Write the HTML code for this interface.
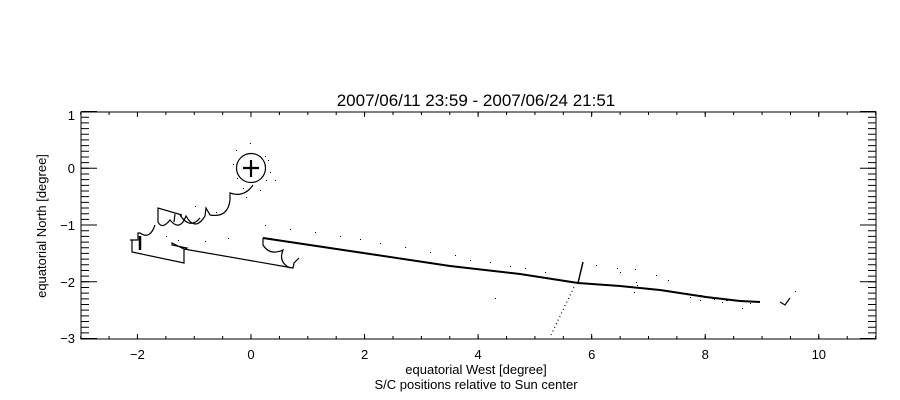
<!DOCTYPE html>
<html><head><style>
html,body{margin:0;padding:0;background:#fff;}
svg{display:block;font-family:"Liberation Sans",sans-serif;}
</style></head><body>
<svg width="900" height="400" viewBox="0 0 900 400" xmlns="http://www.w3.org/2000/svg">
<rect width="900" height="400" fill="#fff"/>
<text x="476" y="106" font-size="17" text-anchor="middle" fill="#000">2007/06/11 23:59 - 2007/06/24 21:51</text>
<rect x="81" y="112" width="795" height="227" fill="none" stroke="#000" stroke-width="1"/>
<g stroke="#000" fill="none">
<line x1="80.2" y1="337.5" x2="876" y2="337.5" stroke-width="3" stroke-dasharray="1 27.39"/>
<line x1="80.2" y1="113.5" x2="876" y2="113.5" stroke-width="3" stroke-dasharray="1 27.39"/>
<line x1="136.9" y1="336.5" x2="876" y2="336.5" stroke-width="5" stroke-dasharray="1 112.56"/>
<line x1="136.9" y1="114.5" x2="876" y2="114.5" stroke-width="5" stroke-dasharray="1 112.56"/>
<line x1="85" y1="111.05" x2="85" y2="339.5" stroke-width="8" stroke-dasharray="1 4.675"/>
<line x1="872" y1="111.05" x2="872" y2="339.5" stroke-width="8" stroke-dasharray="1 4.675"/>
<line x1="89" y1="111.05" x2="89" y2="339.5" stroke-width="16" stroke-dasharray="1 55.75"/>
<line x1="868" y1="111.05" x2="868" y2="339.5" stroke-width="16" stroke-dasharray="1 55.75"/>
</g>
<g font-size="13" fill="#000" text-anchor="middle">
<text x="137.4" y="359">−2</text>
<text x="251" y="359">0</text>
<text x="364.6" y="359">2</text>
<text x="478.1" y="359">4</text>
<text x="591.7" y="359">6</text>
<text x="705.2" y="359">8</text>
<text x="818.8" y="359">10</text>
</g>
<g font-size="13" fill="#000" text-anchor="end">
<text x="75" y="120">1</text>
<text x="75" y="173">0</text>
<text x="75" y="230">−1</text>
<text x="75" y="287">−2</text>
<text x="75" y="343">−3</text>
</g>
<text x="476" y="374" font-size="13" text-anchor="middle">equatorial West [degree]</text>
<text x="476" y="389" font-size="13" text-anchor="middle">S/C positions relative to Sun center</text>
<text transform="translate(46,226) rotate(-90)" font-size="13" text-anchor="middle">equatorial North [degree]</text>
<g fill="none" stroke="#000" stroke-width="1.2">
<circle cx="251" cy="168" r="14.5"/>
<path d="M243,168 L259,168 M251,160 L251,177" stroke-width="2.2"/>
<path d="M253,185 Q244,198 230,193 L230,200 Q228,218 210,215 L206,208 L205,216 Q195,232 186,216 Q180,232 170,220 Q162,230 158,222 L158,208 L182,215 M180,215 Q190,230 200,218 M175,214 L174,222 M155,225 Q150,240 140,233 L138,233 L138,240 L130,240 L132,240 L132,252 L184,263 L184,250 L187,248 L172,245 L172,243 L184,249 L293,268 L294,263 L299,258"/>
<path d="M140,236 L140,250" stroke-width="2.5"/>
<path d="M263,238 L263,245 Q270,256 283,250 Q278,262 290,268"/>
<path d="M263,238 L370,254 L450,266 L520,274 L578,283 L620,286 L660,290 L706,297 L740,301 L760,302" stroke-width="2"/>
<path d="M578,283 L583,262" stroke-width="1.5"/>
<path d="M551,335 L575,285" stroke-dasharray="1,3"/>
<path d="M780,302 L785,305 L790,298"/>
</g>
<g fill="#000">
<rect x="236" y="150" width="1" height="1"/><rect x="265" y="156" width="1" height="1"/><rect x="268" y="160" width="1" height="1"/>
<rect x="237" y="178" width="1" height="1"/><rect x="266" y="180" width="1" height="1"/><rect x="270" y="172" width="1" height="1"/>
<rect x="250" y="143" width="1" height="1"/><rect x="233" y="164" width="1" height="1"/><rect x="260" y="190" width="1" height="1"/>
<rect x="246" y="197" width="1" height="1"/><rect x="243" y="188" width="1" height="1"/><rect x="275" y="180" width="1" height="1"/>
<rect x="195" y="206" width="1" height="1"/><rect x="216" y="212" width="1" height="1"/><rect x="166" y="236" width="1" height="1"/>
<rect x="178" y="240" width="1" height="1"/><rect x="205" y="241" width="1" height="1"/><rect x="228" y="238" width="1" height="1"/>
<rect x="265" y="225" width="1" height="1"/><rect x="290" y="229" width="1" height="1"/><rect x="315" y="232" width="1" height="1"/>
<rect x="340" y="236" width="1" height="1"/><rect x="360" y="239" width="1" height="1"/><rect x="380" y="243" width="1" height="1"/>
<rect x="405" y="247" width="1" height="1"/><rect x="430" y="252" width="1" height="1"/><rect x="455" y="255" width="1" height="1"/>
<rect x="470" y="260" width="1" height="1"/><rect x="490" y="262" width="1" height="1"/><rect x="510" y="266" width="1" height="1"/>
<rect x="525" y="268" width="1" height="1"/><rect x="545" y="272" width="1" height="1"/><rect x="495" y="298" width="1" height="1"/>
<rect x="596" y="265" width="1" height="1"/><rect x="617" y="268" width="1" height="1"/><rect x="620" y="272" width="1" height="1"/>
<rect x="635" y="269" width="1" height="1"/><rect x="656" y="275" width="1" height="1"/><rect x="668" y="280" width="1" height="1"/>
<rect x="636" y="282" width="1" height="1"/><rect x="637" y="285" width="1" height="1"/><rect x="634" y="292" width="1" height="1"/>
<rect x="690" y="297" width="1" height="1"/><rect x="700" y="300" width="1" height="1"/><rect x="714" y="299" width="1" height="1"/>
<rect x="722" y="302" width="1" height="1"/><rect x="732" y="300" width="1" height="1"/><rect x="742" y="308" width="1" height="1"/>
<rect x="750" y="303" width="1" height="1"/><rect x="755" y="301" width="1" height="1"/><rect x="795" y="291" width="1" height="1"/>
<rect x="700" y="295" width="2" height="2"/><rect x="712" y="297" width="2" height="2"/><rect x="726" y="299" width="2" height="2"/><rect x="740" y="300" width="2" height="2"/>
</g>
</svg>
</body></html>
